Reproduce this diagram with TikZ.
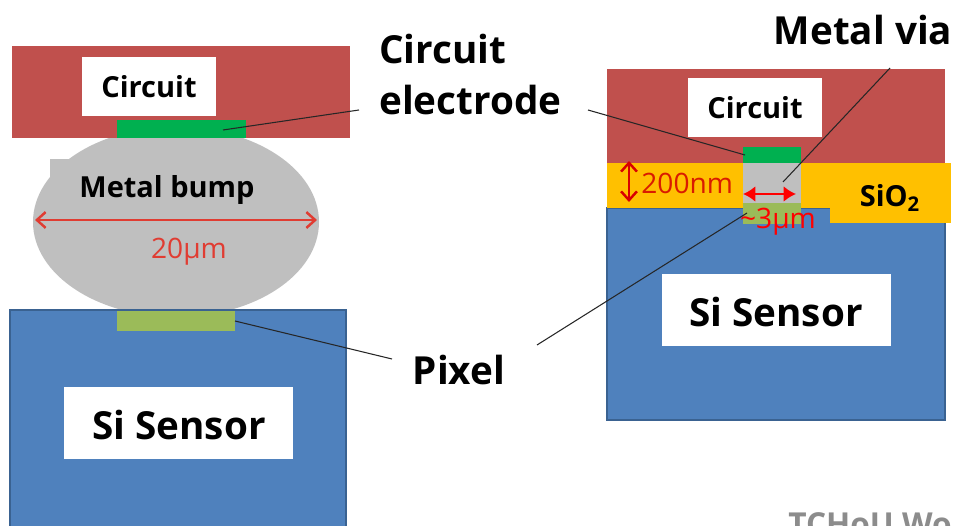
\documentclass[tikz,border=0pt]{standalone}
\usepackage{fontspec}
\setmainfont{Open Sans}
\newfontfamily\thinfont{Open Sans}
\usetikzlibrary{arrows.meta}
\definecolor{circuitred}{HTML}{C0504D}
\definecolor{sensorblue}{HTML}{4F81BD}
\definecolor{edgeblue}{HTML}{3A6291}
\definecolor{bumpgray}{HTML}{BFBFBF}
\definecolor{elecgreen}{HTML}{00B050}
\definecolor{pixelgreen}{HTML}{9BBB59}
\definecolor{oxideyellow}{HTML}{FFC000}
\definecolor{sizered}{HTML}{E03C32}
\newcommand{\myarrow}{{Latex[length=7pt,width=9pt]}-{Latex[length=7pt,width=9pt]}}
\tikzset{
	whitebox/.style={fill=white,inner sep=0pt},
	biglabel/.style={font=\bfseries\fontsize{22}{29}\selectfont,align=left,inner sep=0pt},
	midlabel/.style={font=\bfseries\fontsize{16.5}{20}\selectfont,inner sep=0pt},
	sizelabel/.style={font=\thinfont\fontsize{16}{18}\selectfont,inner sep=0pt},
	leader/.style={draw=black!85,line width=0.6pt},
	sizearrow/.style={draw=sizered,line width=1.4pt,{Straight Barb[length=5pt,width=9pt]}-{Straight Barb[length=5pt,width=9pt]}}
}
\begin{document}
\begin{tikzpicture}[x=0.02cm,y=-0.02cm]
	\useasboundingbox (0,0) rectangle (953,526);
	\clip (0,0) rectangle (953,526);
	\fill[white] (0,0) rectangle (953,526);

	\fill[bumpgray] (176,222) ellipse [x radius=143,y radius=95];
	\fill[bumpgray] (50,159) rectangle (283,205);
	\fill[circuitred] (12,46) rectangle (350,138);
	\fill[sensorblue,draw=edgeblue,line width=1pt] (10,310) rectangle (346,540);
	\fill[elecgreen] (117,120) rectangle (246,138);
	\fill[pixelgreen] (117,311) rectangle (235,331);
	\node[whitebox,minimum width=134*0.02cm,minimum height=59*0.02cm] (lc) at (149,86.5) {};
	\node[midlabel] (lct) at (149,87) {Circuit};
	\node[midlabel] (mb) at (167,190) {Metal bump};
	\coordinate (wl) at (35,220);
	\coordinate (wr) at (317,220);
	\draw[sizearrow] (wl) -- (wr);
	\node[sizelabel,text=sizered] (wd) at (189,252) {20µm};
	\node[whitebox,minimum width=229*0.02cm,minimum height=72*0.02cm] (ls) at (178.5,423) {};
	\node[biglabel] (lst) at (179,425) {Si Sensor};

	\fill[circuitred] (607,69) rectangle (945,163);
	\fill[sensorblue,draw=edgeblue,line width=1pt] (607,208) rectangle (945,420);
	\fill[oxideyellow] (607,163) rectangle (945,208);
	\fill[oxideyellow] (830,163) rectangle (951,223);
	\fill[bumpgray] (743,163) rectangle (801,204);
	\fill[elecgreen] (743,147) rectangle (801,163);
	\fill[pixelgreen] (743,203) rectangle (801,224);
	\node[whitebox,minimum width=134*0.02cm,minimum height=59*0.02cm] (rc) at (755,107.5) {};
	\node[midlabel] (rct) at (755,108) {Circuit};
	\node[midlabel] (so) at (890,198) {SiO\textsubscript{2}};
	\node[whitebox,minimum width=229*0.02cm,minimum height=72*0.02cm] (rs) at (776.5,310) {};
	\node[biglabel] (rst) at (776,312) {Si Sensor};
	\coordinate (ht) at (629,161);
	\coordinate (hb) at (629,202);
	\draw[red!85!black,line width=1.4pt,{Straight Barb[length=5pt,width=9pt]}-{Straight Barb[length=5pt,width=9pt]}] (ht) -- (hb);
	\node[sizelabel,text=red!75!orange!85!black,anchor=west] (hn) at (641,183) {200nm};
	\coordinate (vl) at (743,194);
	\coordinate (vr) at (796,194);
	\draw[red,line width=1.3pt,\myarrow] (vl) -- (vr);
	\node[sizelabel,text=red] (vn) at (778,222) {\textasciitilde3µm};

	\node[biglabel,anchor=north west] (ce) at (379,34) {Circuit\\electrode};
	\node[biglabel] (px) at (459,370) {Pixel};
	\node[biglabel] (mv) at (863,30) {Metal via};

	\coordinate (ce1) at (223,130);
	\coordinate (ce2) at (359,110);
	\coordinate (ce3) at (588,110);
	\coordinate (ce4) at (745,155);
	\coordinate (px1) at (235,321);
	\coordinate (px2) at (392,359);
	\coordinate (px3) at (537,345);
	\coordinate (px4) at (747,213);
	\coordinate (mv1) at (890,68);
	\coordinate (mv2) at (783,182);
	\draw[leader] (ce1) -- (ce2);
	\draw[leader] (ce3) -- (ce4);
	\draw[leader] (px1) -- (px2);
	\draw[leader] (px3) -- (px4);
	\draw[leader] (mv1) -- (mv2);

	\node[font=\bfseries\fontsize{18}{22}\selectfont,text=black!45,anchor=base west,inner sep=0pt] (wm) at (788,535) {TCHoU Wo};
\end{tikzpicture}
\end{document}
